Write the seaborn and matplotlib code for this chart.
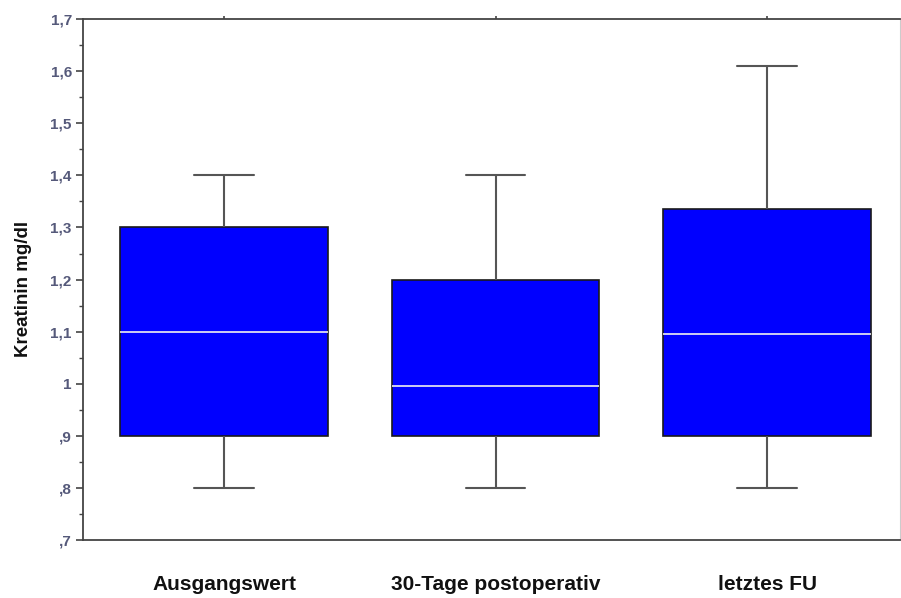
import pandas as pd
import matplotlib
matplotlib.use("Agg")
import matplotlib.pyplot as plt
import seaborn as sns
from matplotlib.ticker import MultipleLocator

# five-number summaries (min, q1, median, q3, max)
groups = ['Ausgangswert', '30-Tage postoperativ', 'letztes FU']
lows = [0.80, 0.80, 0.80]
q1s = [0.90, 0.90, 0.90]
medians = [1.10, 0.995, 1.095]
q3s = [1.30, 1.20, 1.335]
highs = [1.40, 1.40, 1.61]

ytick_vals = [0.7, 0.8, 0.9, 1.0, 1.1, 1.2, 1.3, 1.4, 1.5, 1.6, 1.7]
ytick_labels = [',7', ',8', ',9', '1', '1,1', '1,2', '1,3', '1,4', '1,5', '1,6', '1,7']

rows = []
for g, a, b, c, d, e in zip(groups, lows, q1s, medians, q3s, highs):
    for v in (a, b, c, d, e):
        rows.append({'Gruppe': g, 'Kreatinin': v})
df = pd.DataFrame(rows)

sns.set_style('white')
plt.rcParams['font.family'] = ['Liberation Sans', 'DejaVu Sans']

fig = plt.figure(figsize=(9.01, 5.98), dpi=100)
ax = fig.add_axes([0.092, 0.097, 0.907, 0.871])

sns.boxplot(data=df, x='Gruppe', y='Kreatinin', order=groups, ax=ax,
            width=0.765, whis=(0, 100), color='#0000ff', saturation=1,
            linewidth=1.2, showfliers=False,
            boxprops=dict(facecolor='#0000ff', edgecolor='#1a1a1a'),
            medianprops=dict(color='#f0f0f0', linewidth=1.2),
            whiskerprops=dict(color='#555555', linewidth=1.5),
            capprops=dict(color='#555555', linewidth=1.5),
            capwidths=0.22)

ax.set_xlim(-0.52, 2.49)
ax.set_ylim(0.7, 1.7)
ax.set_yticks(ytick_vals)
ax.set_yticklabels(ytick_labels)
ax.yaxis.set_minor_locator(MultipleLocator(0.05))

for s in ['left', 'top', 'bottom']:
    ax.spines[s].set_color('#444444')
    ax.spines[s].set_linewidth(1.3)
ax.spines['right'].set_color('#cccccc')
ax.spines['right'].set_linewidth(0.8)

ax.tick_params(axis='y', which='major', left=True, length=5, width=1.2,
               color='#444444', labelsize=11, labelcolor='#55597a', pad=3)
ax.tick_params(axis='y', which='minor', left=True, length=3, width=1.0,
               color='#444444')
ax.tick_params(axis='x', bottom=False, top=True, length=2, width=1.2,
               color='#444444', labelsize=15, labelcolor='#111111', pad=23)
for lab in ax.get_yticklabels():
    lab.set_fontweight('bold')
for lab in ax.get_xticklabels():
    lab.set_fontweight('bold')

ax.set_xlabel('')
ax.set_ylabel('Kreatinin mg/dl', fontsize=13.5, fontweight='bold', color='#111111')
ax.yaxis.set_label_coords(-0.062, 0.482)

plt.savefig('out.png', dpi=100)
plt.close()
